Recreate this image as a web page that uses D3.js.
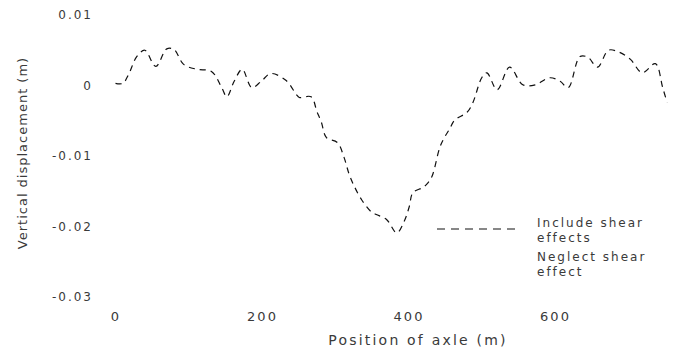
<!DOCTYPE html>
<html>
<head>
<meta charset="utf-8">
<script src="https://d3js.org/d3.v7.min.js"></script>
<style>
  body { margin: 0; background: #fff; }
  text { font-family: "DejaVu Sans", sans-serif; fill: #3a3a3a; }
</style>
</head>
<body>
<script>
// position along the bridge (m)
var positions = [0, 10, 18, 29, 40, 55, 70, 80, 93, 111, 131, 145, 152, 162, 173, 186, 199, 212,
  233, 247, 251, 267, 275, 281, 288, 303, 312, 319, 326, 336, 349, 356, 370, 384, 394, 401,
  406, 419, 425, 432, 443, 450, 456, 463, 480, 488, 500, 507, 521, 538, 556, 573, 593, 607,
  618, 634, 645, 658, 673, 686, 703, 719, 737, 747, 753];
// vertical displacement, shear effects included (m)
var includeShear = [0.0003, 0.0003, 0.0016, 0.0041, 0.0050, 0.0027, 0.0052, 0.0051, 0.0030, 0.0023,
  0.0020, -0.0003, -0.0016, 0.0006, 0.0023, -0.0003, 0.0006, 0.0017,
  0.0007, -0.0013, -0.0017, -0.0016, -0.0037, -0.0052, -0.0074, -0.0081, -0.0102, -0.0126,
  -0.0143, -0.0162, -0.0179, -0.0183, -0.0190, -0.0209, -0.0193, -0.0172,
  -0.0152, -0.0145, -0.0140, -0.0129, -0.0087, -0.0072, -0.0062, -0.0049, -0.0038, -0.0024,
  0.0011, 0.0018, -0.0006, 0.0026, 0.0001, 0.0001, 0.0011, 0.0006,
  -0.0003, 0.0041, 0.0040, 0.0026, 0.0050, 0.0048, 0.0037, 0.0018, 0.0031, -0.0003, -0.0024];

var xTicks = [0, 200, 400, 600];
var yTicks = [-0.03, -0.02, -0.01, 0, 0.01];
var legendLabels = [["Include shear", "effects"], ["Neglect shear", "effect"]];

var width = 683, height = 351;

var svg = d3.select("body").append("svg")
  .attr("width", width)
  .attr("height", height);

var x = d3.scaleLinear().domain([0, 600]).range([115.5, 555]);
var y = d3.scaleLinear().domain([-0.03, 0.01]).range([297, 15]);

// axes: labels only, no lines
var yAxis = svg.append("g")
  .attr("transform", "translate(93,0)")
  .call(d3.axisLeft(y).tickValues(yTicks).tickSize(0).tickPadding(0)
    .tickFormat(function(d) { return d === 0 ? "0" : d3.format(".2f")(d).replace("−", "-"); }));
yAxis.select(".domain").remove();
yAxis.selectAll("text")
  .style("font-size", "12px")
  .style("letter-spacing", "2px")
  .attr("fill", "#3a3a3a");

var xAxis = svg.append("g")
  .attr("transform", "translate(0,312)")
  .call(d3.axisBottom(x).tickValues(xTicks).tickSize(0).tickPadding(0));
xAxis.select(".domain").remove();
xAxis.selectAll("text")
  .style("font-size", "13px")
  .style("letter-spacing", "2px")
  .attr("fill", "#3a3a3a");

svg.append("text")
  .attr("x", 418)
  .attr("y", 345)
  .attr("text-anchor", "middle")
  .style("font-size", "14px")
  .style("letter-spacing", "2.2px")
  .text("Position of axle (m)");

svg.append("text")
  .attr("transform", "translate(27,153) rotate(-90)")
  .attr("text-anchor", "middle")
  .style("font-size", "13px")
  .style("letter-spacing", "1px")
  .text("Vertical displacement (m)");

// curve
var pts = positions.map(function(p, i) { return [p, includeShear[i]]; });
var line = d3.line()
  .x(function(d) { return x(d[0]); })
  .y(function(d) { return y(d[1]); })
  .curve(d3.curveCatmullRom);

svg.append("path")
  .datum(pts)
  .attr("d", line)
  .attr("fill", "none")
  .attr("stroke", "#111")
  .attr("stroke-width", 1.2)
  .attr("stroke-dasharray", "6,5");

// legend
var legend = svg.append("g");
legend.append("line")
  .attr("x1", 437).attr("x2", 521)
  .attr("y1", 229).attr("y2", 229)
  .attr("stroke", "#111")
  .attr("stroke-width", 1.2)
  .attr("stroke-dasharray", "8,6");

legendLabels.forEach(function(lines, i) {
  lines.forEach(function(t, j) {
    legend.append("text")
      .attr("x", 537)
      .attr("y", 227 + i * 34 + j * 15)
      .style("font-size", "12px")
      .style("letter-spacing", "2px")
      .text(t);
  });
});
</script>
</body>
</html>
